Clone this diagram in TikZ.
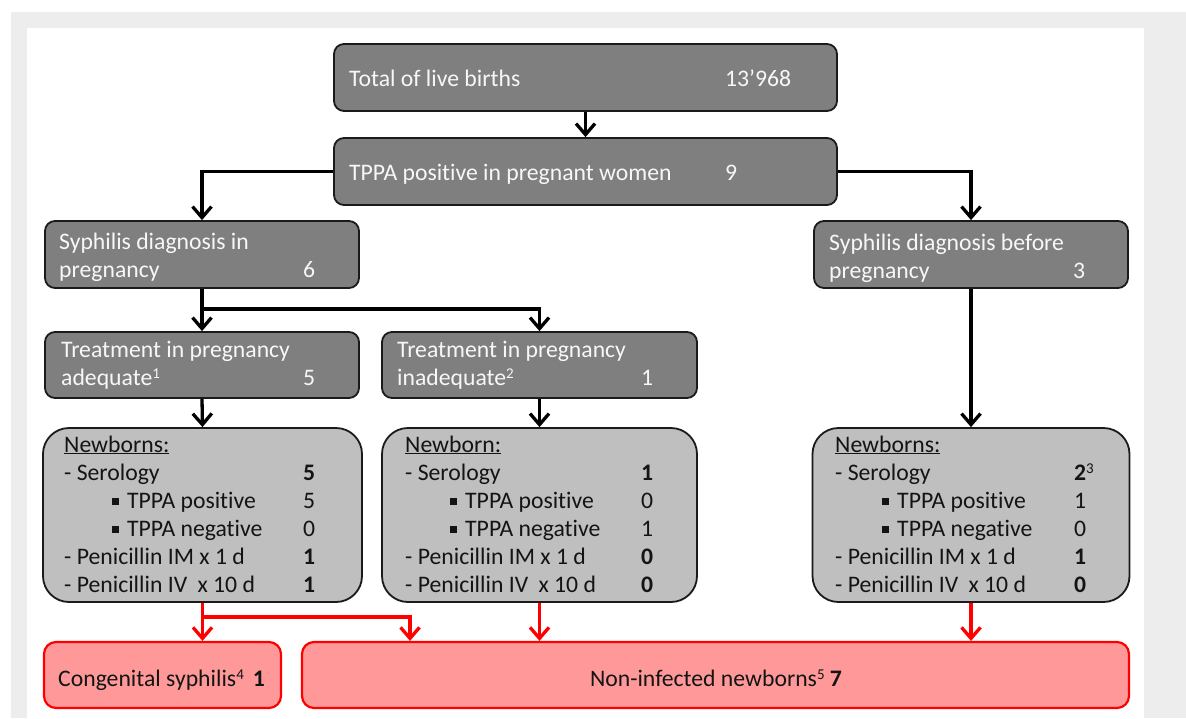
\documentclass[tikz,border=0pt]{standalone}
\usepackage{fontspec}
\setmainfont{Carlito}[Ligatures={NoCommon,NoContextual,NoRare}]
\usetikzlibrary{arrows.meta}
\definecolor{bgc}{HTML}{EDEDED}
\definecolor{dk}{HTML}{7F7F7F}
\definecolor{lt}{HTML}{BFBFBF}
\definecolor{pk}{HTML}{FF9999}
\definecolor{rd}{HTML}{FF0000}
\definecolor{bd}{HTML}{1A1A1A}
\definecolor{wt}{HTML}{F7F7F7}
\definecolor{tx}{HTML}{141414}
\newcommand\sqbul{\rule[3.5pt]{7pt}{7pt}}
\newcommand\supr[1]{\raisebox{6.5pt}{\fontsize{15}{15}\selectfont #1}}
\newcommand\posw{posit\kern0pt ive}
\begin{document}
\begin{tikzpicture}[x=1pt,y=-1pt,
 every node/.style={font=\fontsize{23.7}{28}\selectfont},
 darkbox/.style={draw=bd, line width=1.8pt, fill=dk, rounded corners=10pt, inner sep=0pt},
 nbbox/.style={draw=bd, line width=1.8pt, fill=lt, rounded corners=26pt, inner sep=0pt},
 redbox/.style={draw=rd, line width=2.2pt, fill=pk, rounded corners=12pt, inner sep=0pt},
 conn/.style={line width=3.3pt, draw=black, -{Straight Barb[length=11pt,width=19pt]}},
 redconn/.style={line width=3.3pt, draw=rd, -{Straight Barb[length=11pt,width=19pt]}},
 wtxt/.style={anchor=base west, inner sep=0pt, text=wt},
 btxt/.style={anchor=base west, inner sep=0pt, text=tx},
]
\useasboundingbox (0,0) rectangle (1186,718);
\fill[white] (0,0) rectangle (1186,718);
\fill[bgc] (11,12) rectangle (1186,718);
\fill[white] (27,28) rectangle (1144,718);

% boxes
\node[darkbox, minimum width=503pt, minimum height=67pt] (total) at (585.5,77.5) {};
\node[darkbox, minimum width=503pt, minimum height=67pt] (tppa) at (585.5,171.5) {};
\node[darkbox, minimum width=314pt, minimum height=67pt] (sdp) at (202,254.5) {};
\node[darkbox, minimum width=314pt, minimum height=67pt] (sdb) at (971,254.5) {};
\node[darkbox, minimum width=314pt, minimum height=66pt] (tra) at (202,365) {};
\node[darkbox, minimum width=315pt, minimum height=66pt] (tri) at (539.5,365) {};
\node[nbbox, minimum width=319pt, minimum height=174pt] (nba) at (202.5,515) {};
\node[nbbox, minimum width=315pt, minimum height=174pt] (nbi) at (539.5,515) {};
\node[nbbox, minimum width=317pt, minimum height=174pt] (nbb) at (971,515) {};
\node[redbox, minimum width=237pt, minimum height=66pt] (cong) at (162.5,675) {};
\node[redbox, minimum width=827pt, minimum height=66pt] (noninf) at (715.5,675) {};

% black connectors
\draw[conn] (total.south) -- (tppa.north);
\draw[conn] (tppa.west) -| (sdp.north);
\draw[conn] (tppa.east) -| (sdb.north);
\coordinate (split) at (202,309);
\draw[conn] (sdp.south) -- (tra.north);
\draw[conn] (sdp.south) -- (split) -| (tri.north);
\draw[conn] (tra.south) -- (nba.north);
\draw[conn] (tri.south) -- (nbi.north);
\draw[conn] (sdb.south) -- (nbb.north);

% red connectors
\coordinate (rsplit) at (410,617);
\draw[redconn] (nba.south) -- (nba.south |- cong.north);
\draw[redconn] (nba.south) |- (rsplit) -- (rsplit |- noninf.north);
\draw[redconn] (nbi.south) -- (nbi.south |- noninf.north);
\draw[redconn] (nbb.south) -- (nbb.south |- noninf.north);

% texts in dark boxes
\node[wtxt] (ttotal) at (349,86) {Total of live births};
\node[wtxt] (ntotal) at (725,86) {13’968};
\node[wtxt] (ttppa) at (349,180) {TPPA \posw\ in pregnant women};
\node[wtxt] (ntppa) at (725,180) {9};
\node[wtxt] (tsdp1) at (59,249) {Syphilis diagnosis in};
\node[wtxt] (tsdp2) at (59,277) {pregnancy};
\node[wtxt] (nsdp) at (303,277) {6};
\node[wtxt] (tsdb1) at (829,250) {Syphilis diagnosis before};
\node[wtxt] (tsdb2) at (829,278) {pregnancy};
\node[wtxt] (nsdb) at (1073,278) {3};
\node[wtxt] (ttra1) at (61,357) {Treatment in pregnancy};
\node[wtxt] (ttra2) at (61,385) {adequate\supr{1}};
\node[wtxt] (ntra) at (303,385) {5};
\node[wtxt] (ttri1) at (397,357) {Treatment in pregnancy};
\node[wtxt] (ttri2) at (397,385) {inadequate\supr{2}};
\node[wtxt] (ntri) at (641,385) {1};

% newborns adequate
\node[btxt] (a0) at (64,452) {\underline{Newborns:}};
\node[btxt] (a1) at (64,480) {- Serology};
\node[btxt] (a1n) at (303,480) {\textbf{5}};
\node[btxt] (a2b) at (112,508) {\sqbul};
\node[btxt] (a2) at (127,508) {TPPA \posw};
\node[btxt] (a2n) at (303,508) {5};
\node[btxt] (a3b) at (112,536) {\sqbul};
\node[btxt] (a3) at (127,536) {TPPA negative};
\node[btxt] (a3n) at (303,536) {0};
\node[btxt] (a4) at (64,564) {- Penicillin IM x 1 d};
\node[btxt] (a4n) at (303,564) {\textbf{1}};
\node[btxt] (a5) at (64,592) {- Penicillin IV\hspace{5pt} x 10 d};
\node[btxt] (a5n) at (303,592) {\textbf{1}};

% newborn inadequate
\node[btxt] (i0) at (405,452) {\underline{Newborn:}};
\node[btxt] (i1) at (405,480) {- Serology};
\node[btxt] (i1n) at (641,480) {\textbf{1}};
\node[btxt] (i2b) at (450,508) {\sqbul};
\node[btxt] (i2) at (465,508) {TPPA \posw};
\node[btxt] (i2n) at (641,508) {0};
\node[btxt] (i3b) at (450,536) {\sqbul};
\node[btxt] (i3) at (465,536) {TPPA negative};
\node[btxt] (i3n) at (641,536) {1};
\node[btxt] (i4) at (405,564) {- Penicillin IM x 1 d};
\node[btxt] (i4n) at (641,564) {\textbf{0}};
\node[btxt] (i5) at (405,592) {- Penicillin IV\hspace{5pt} x 10 d};
\node[btxt] (i5n) at (641,592) {\textbf{0}};

% newborns before
\node[btxt] (b0) at (835,452) {\underline{Newborns:}};
\node[btxt] (b1) at (835,480) {- Serology};
\node[btxt] (b1n) at (1074,480) {\textbf{2}\supr{3}};
\node[btxt] (b2b) at (882,508) {\sqbul};
\node[btxt] (b2) at (897,508) {TPPA \posw};
\node[btxt] (b2n) at (1074,508) {1};
\node[btxt] (b3b) at (882,536) {\sqbul};
\node[btxt] (b3) at (897,536) {TPPA negative};
\node[btxt] (b3n) at (1074,536) {0};
\node[btxt] (b4) at (835,564) {- Penicillin IM x 1 d};
\node[btxt] (b4n) at (1074,564) {\textbf{1}};
\node[btxt] (b5) at (835,592) {- Penicillin IV\hspace{5pt} x 10 d};
\node[btxt] (b5n) at (1074,592) {\textbf{0}};

% outcome texts
\node[btxt] (tcong) at (58,686) {Congenital syphilis\supr{4}\hspace{9pt}\textbf{1}};
\node[anchor=base, inner sep=0pt, text=tx] (tnon) at (716,686) {Non-infected newborns\supr{5} \textbf{7}};
\end{tikzpicture}
\end{document}
